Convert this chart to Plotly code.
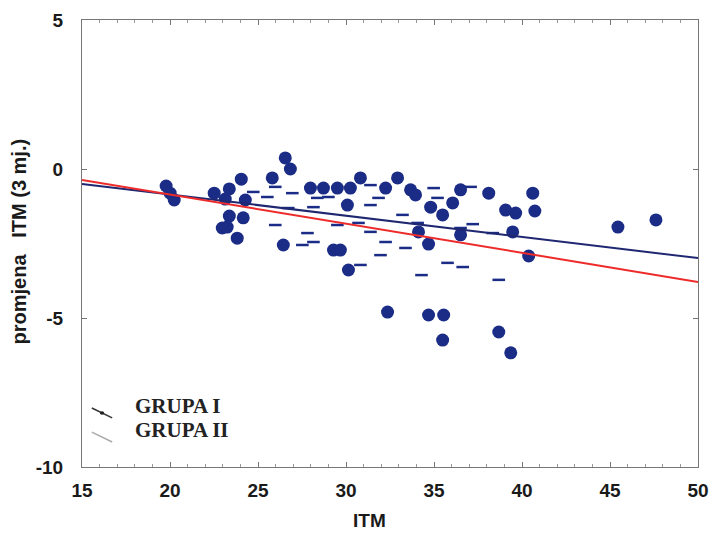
import plotly.graph_objects as go

# ITM at baseline and 3-month change (GRUPA I, solid points)
itm_1 = [19.78, 20.01, 20.24, 22.51, 23.37, 24.05, 23.14, 24.28, 23.37, 24.16,
         23.25, 22.97, 23.82, 25.81, 26.55, 26.84, 27.98, 28.72, 29.51, 30.25,
         30.82, 32.25, 32.93, 26.44, 29.29, 29.68, 30.14, 33.67, 33.95, 34.81,
         35.49, 36.06, 36.51, 38.11, 40.61, 39.07, 39.64, 40.73, 34.12, 34.69,
         36.51, 39.47, 40.38, 45.45, 47.61, 32.36, 34.69, 35.55, 35.49, 38.68,
         39.36, 30.08]
chg_1 = [-0.57, -0.81, -1.04, -0.81, -0.67, -0.34, -1.01, -1.04, -1.58, -1.64,
         -1.95, -1.98, -2.32, -0.30, 0.37, 0.00, -0.64, -0.64, -0.64, -0.64,
         -0.30, -0.64, -0.30, -2.55, -2.72, -2.72, -3.39, -0.70, -0.87, -1.28,
         -1.54, -1.14, -0.70, -0.81, -0.81, -1.38, -1.48, -1.41, -2.11, -2.52,
         -2.21, -2.11, -2.92, -1.95, -1.71, -4.80, -4.90, -4.90, -5.74, -5.47,
         -6.17, -1.21]

# GRUPA II points (faint marks)
itm_2 = [24.73, 25.53, 25.98, 25.98, 26.95, 28.37, 29.00, 31.39, 31.85, 31.39,
         26.72, 28.15, 33.21, 29.51, 30.71, 31.39, 27.81, 27.52, 28.15, 32.25,
         31.96, 30.82, 34.98, 37.08, 35.20, 34.07, 37.20, 36.51, 38.34, 35.77,
         36.63, 33.38, 34.29, 38.68]
chg_2 = [-0.77, -0.94, -1.88, -0.60, -0.81, -0.97, -0.94, -0.54, -0.97, -1.21,
         -1.31, -1.28, -1.54, -1.88, -1.81, -2.11, -2.15, -2.55, -2.45, -2.45,
         -2.89, -3.22, -0.64, -0.60, -0.97, -1.81, -1.85, -1.98, -2.15, -3.15,
         -3.29, -2.65, -3.56, -3.72]

# Regression lines (end points)
fit_x = [15, 50]
fit_1 = [-0.50, -2.99]
fit_2 = [-0.37, -3.79]

x_ticks = [15, 20, 25, 30, 35, 40, 45, 50]
y_ticks = [-10, -5, 0, 5]

navy = "#1b2c86"

fig = go.Figure()
fig.add_trace(go.Scatter(
    x=itm_2, y=chg_2, mode="markers",
    marker=dict(symbol="line-ew", size=9, line=dict(width=2.5, color=navy)),
    showlegend=False, hoverinfo="skip"))
fig.add_trace(go.Scatter(
    x=itm_1, y=chg_1, mode="markers",
    marker=dict(symbol="circle", size=13, color=navy, line=dict(width=0)),
    showlegend=False))
fig.add_trace(go.Scatter(
    x=fit_x, y=fit_1, mode="lines",
    line=dict(color="#1e2770", width=2), showlegend=False))
fig.add_trace(go.Scatter(
    x=fit_x, y=fit_2, mode="lines",
    line=dict(color="#ee2b2b", width=2), showlegend=False))

tick_font = dict(family="Liberation Sans, Arial, sans-serif", size=19,
                 color="#1a1a1a", weight="bold")

fig.update_layout(
    width=712, height=533,
    margin=dict(l=82, r=14, t=20, b=66, autoexpand=False),
    paper_bgcolor="white", plot_bgcolor="white",
    xaxis=dict(
        range=[15, 50], tickvals=x_ticks, ticktext=[str(v) for v in x_ticks],
        ticks="inside", ticklen=5, tickcolor="#777", tickfont=tick_font,
        ticklabelstandoff=6, automargin=False,
        showline=True, linecolor="#777", linewidth=1, mirror="ticks",
        showgrid=False, zeroline=False,
        minor=dict(dtick=1, ticks="inside", ticklen=3, tickcolor="#999",
                   showgrid=False),
    ),
    yaxis=dict(
        range=[-10, 5], tickvals=y_ticks, ticktext=[str(v) for v in y_ticks],
        ticks="inside", ticklen=5, tickcolor="#777", tickfont=tick_font,
        ticklabelstandoff=14, automargin=False,
        showline=True, linecolor="#777", linewidth=1, mirror="ticks",
        showgrid=False, zeroline=False,
    ),
    annotations=[
        dict(text="ITM", xref="paper", yref="paper", x=0.4675, y=-0.119,
             xanchor="center", yanchor="middle", showarrow=False,
             font=dict(family="Liberation Sans, Arial, sans-serif", size=19,
                       color="#1a1a1a", weight="bold")),
        dict(text="promjena\u00a0\u00a0\u00a0ITM (3 mj.)", xref="paper",
             yref="paper", x=-0.102, y=0.505, textangle=-90,
             xanchor="center", yanchor="middle", showarrow=False,
             font=dict(family="Liberation Sans, Arial, sans-serif", size=20,
                       color="#1a1a1a", weight="bold")),
        dict(text="GRUPA I", xref="paper", yref="paper", x=0.083, y=0.136,
             xanchor="left", yanchor="middle", showarrow=False,
             font=dict(family="Liberation Serif, Times New Roman, serif",
                       size=21, color="#222", weight="bold")),
        dict(text="GRUPA II", xref="paper", yref="paper", x=0.083, y=0.082,
             xanchor="left", yanchor="middle", showarrow=False,
             font=dict(family="Liberation Serif, Times New Roman, serif",
                       size=21, color="#222", weight="bold")),
    ],
    shapes=[
        dict(type="line", xref="paper", yref="paper",
             x0=0.016, y0=0.132, x1=0.049, y1=0.110,
             line=dict(color="#333", width=1.5)),
        dict(type="circle", xref="paper", yref="paper",
             x0=0.029, y0=0.117, x1=0.036, y1=0.125,
             fillcolor="#222", line=dict(width=0)),
        dict(type="line", xref="paper", yref="paper",
             x0=0.016, y0=0.078, x1=0.049, y1=0.056,
             line=dict(color="#aaa", width=1.5)),
    ],
)

fig.write_html("out.html")
